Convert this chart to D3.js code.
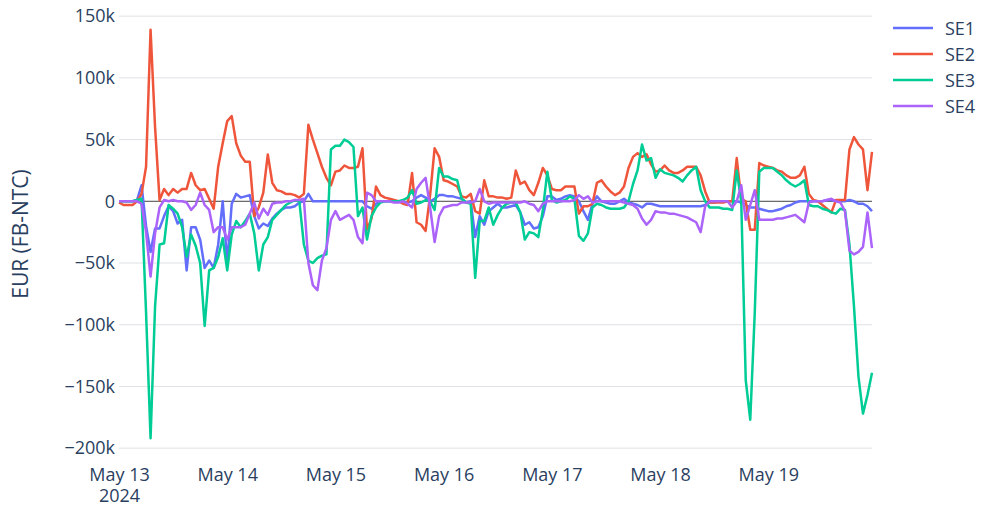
<!DOCTYPE html>
<html>
<head>
<meta charset="utf-8">
<script src="https://cdn.jsdelivr.net/npm/d3@7"></script>
<style>
  html, body { margin: 0; padding: 0; background: #fff; }
  svg { display: block; font-family: "Open Sans", verdana, arial, sans-serif; }
</style>
</head>
<body>
<svg id="chart" width="982" height="506"></svg>
<script>
// hourly values, kEUR, starting 2024-05-13 00:00
var startTime = Date.UTC(2024, 4, 13, 0, 0);
var seriesNames = ["SE1", "SE2", "SE3", "SE4"];
var colors = ["#636efa", "#EF553B", "#00cc96", "#ab63fa"];
var yTicks = [-200, -150, -100, -50, 0, 50, 100, 150];

var se1 = [
  0, 0, 0, 0, 1, 13, -20, -41, -22, -22,
  -12, -4, -8, -18, -15, -56, -21, -21, -31, -54,
  -48, -54, -35, 0, -50, -2, 6, 3, 4, 5,
  -12, -22, -18, -20, -14, -10, -7, -5, -5, -4,
  -1, 0, 6, 0, 0, 0, 0, 0, 0, 0,
  0, 0, 0, 0, 0, -4, -6, -2, 0, 0,
  0, 0, 0, -1, -1, 0, 3, 5, 3, 0,
  2, 5, 5, 4, 4, 3, 2, -1, 0, -29,
  -12, -19, -8, -5, -2, -5, -5, -4, -3, -9,
  -19, -17, -22, -21, -12, 4, 4, 1, 2, 4,
  5, 4, 0, -8, -15, -2, 4, 0, -1, -2,
  -2, 0, 2, -1, -2, -3, -5, -2, -2, -3,
  -4, -4, -4, -4, -4, -4, -4, -4, -4, -4,
  -3, -1, -1, 0, 0, 0, 0, 0, -1, -3,
  -5, -5, -6, -7, -8, -8, -7, -6, -4, -3,
  -1, 0, 0, 0, 0, 0, 0, 1, 1, 0,
  0, 0, 1, 0, -2, -2, -4, -8
];

var se2 = [
  -1, -3, -3, -3, 0, 6, 28, 139, 60, 1,
  10, 5, 10, 7, 10, 10, 23, 13, 9, 10,
  2, -6, 28, 47, 65, 69, 47, 37, 32, 32,
  -12, -5, 7, 38, 15, 9, 8, 6, 6, 5,
  3, 6, 62, 50, 39, 28, 19, 13, 24, 25,
  29, 27, 27, 28, 43, -23, -14, 12, 5, 3,
  2, 1, 0, -2, -3, 23, -17, -19, -24, 5,
  43, 36, 17, 16, 14, 12, 4, 3, 6, -8,
  -10, 17, 4, 4, 3, 3, 2, 3, 25, 14,
  16, 9, 5, 15, 27, 21, 10, 9, 9, 12,
  12, 12, -10, -4, -4, -2, 15, 17, 12, 8,
  5, 7, 12, 27, 36, 39, 36, 38, 30, 24,
  25, 29, 25, 23, 23, 25, 28, 28, 28, 21,
  8, -1, -1, -1, -1, 0, 0, 35, 2, 0,
  -23, -23, 31, 29, 28, 27, 25, 24, 21, 19,
  19, 21, 28, 6, 1, 0, -3, -6, -9, 1,
  1, 1, 42, 52, 46, 42, 9, 40
];

var se3 = [
  0, 0, 0, 0, 1, 2, -90, -192, -85, -35,
  -34, -3, -6, -10, -21, -45, -27, -36, -50, -101,
  -56, -54, -45, -30, -56, -27, -16, -21, -16, -10,
  -26, -56, -35, -29, -15, -11, -7, -3, -1, 1,
  0, -35, -48, -50, -46, -44, -43, 42, 45, 45,
  50, 48, 44, -12, -5, -31, -12, -5, -1, 0,
  0, 0, 0, 1, 3, 9, -2, -1, 1, 0,
  -7, 27, 20, 20, 18, 17, 2, -1, -2, -62,
  -16, -16, -5, -19, -11, -5, -2, -1, -1, -9,
  -31, -25, -26, -29, -7, 24, 1, -1, 0, 1,
  4, 2, -28, -32, -26, -5, -2, -3, -5, -6,
  -6, -6, -5, 0, 14, 25, 46, 33, 35, 19,
  26, 23, 22, 21, 19, 16, 21, 25, 28, 9,
  0, -5, -5, -5, -6, -6, -7, 25, 0, -145,
  -177, -90, 24, 27, 27, 27, 24, 21, 17, 14,
  12, 14, 17, -3, -4, -4, -6, -7, -9, -10,
  -6, -7, -35, -85, -142, -172, -157, -139
];

var se4 = [
  0, 0, 0, 0, 0, -2, -25, -61, -26, -5,
  1, 0, 1, 0, 0, -1, -7, -3, 7, -3,
  -7, -25, -21, -21, -31, -21, -21, -21, -19, -10,
  -1, -14, -6, -11, -2, -1, -1, 0, 0, 1,
  1, 2, -50, -68, -72, -48, -38, -15, -8, -15,
  -13, -11, -15, -29, -34, 7, 5, 0, 0, 0,
  0, -1, -1, 0, -2, -5, 10, 15, 19, -5,
  -33, -12, -5, -4, -3, -3, -1, -1, -1, 0,
  10, 0, -2, -1, -1, -1, -1, -1, -1, -1,
  0, -2, -3, -8, -2, 0, 0, 0, 0, 0,
  0, 1, 5, 2, 4, -1, 0, 0, 0, 0,
  0, 0, -1, -2, -3, -6, -14, -19, -15, -8,
  -9, -9, -10, -10, -11, -12, -13, -15, -17, -25,
  -4, 0, 0, 0, 0, 0, -5, 0, 13, -15,
  -3, 9, -15, -15, -15, -15, -14, -14, -13, -12,
  -11, -14, -17, -1, 0, 0, 0, 1, 2, 0,
  -1, -8, -40, -43, -41, -37, -9, -38
];

var allSeries = [se1, se2, se3, se4];

var width = 982, height = 506;
var margin = {left: 119, right: 110};
var fontFamily = '"Open Sans", verdana, arial, sans-serif';
var textColor = "#2a3f5f";
var svg = d3.select("#chart");

var series = allSeries.map(function(vals, i){
  return {
    name: seriesNames[i],
    color: colors[i],
    values: vals.map(function(v, h){
      return {t: new Date(startTime + h * 3600 * 1000), v: v * 1000};
    })
  };
});

var allPoints = d3.merge(series.map(function(s){ return s.values; }));

var x = d3.scaleUtc()
  .domain(d3.extent(allPoints, function(d){ return d.t; }))
  .range([margin.left, width - margin.right]);

// plotly style autorange: 5% padding on each side
var ext = d3.extent(allPoints, function(d){ return d.v; });
var pad = (ext[1] - ext[0]) * 0.05;
var plotTop = 9.3, plotBottom = 458.7;
var y = d3.scaleLinear()
  .domain([ext[0] - pad, ext[1] + pad])
  .range([plotBottom, plotTop]);

svg.append("rect").attr("width", width).attr("height", height).attr("fill", "#fff");

// grid
svg.append("g").selectAll("line")
  .data(yTicks.filter(function(d){ return d !== 0; }))
  .enter().append("line")
  .attr("x1", x.range()[0]).attr("x2", x.range()[1])
  .attr("y1", function(d){ return y(d * 1000); })
  .attr("y2", function(d){ return y(d * 1000); })
  .attr("stroke", "#dfe1e5").attr("stroke-width", 1);

var fmt = d3.format("~s");
var yAxis = svg.append("g")
  .attr("transform", "translate(" + (x.range()[0] - 4) + ",0)")
  .call(d3.axisLeft(y)
    .tickValues(yTicks.map(function(d){ return d * 1000; }))
    .tickSize(0)
    .tickFormat(function(d){ return d === 0 ? "0" : fmt(d); }));
yAxis.select(".domain").remove();
yAxis.selectAll("text")
  .attr("x", 0)
  .attr("fill", textColor)
  .style("font-size", "18px")
  .style("font-family", fontFamily);

var days = d3.utcDay.range(x.domain()[0], x.domain()[1]);
var xAxis = svg.append("g")
  .attr("transform", "translate(0," + plotBottom + ")")
  .call(d3.axisBottom(x).tickValues(days).tickSize(0).tickFormat(d3.utcFormat("%b %-d")));
xAxis.select(".domain").remove();
xAxis.selectAll("text")
  .attr("y", 22.5)
  .attr("dy", "0")
  .attr("fill", textColor)
  .style("font-size", "18px")
  .style("font-family", fontFamily)
  .each(function(d, i){
    if (i !== 0) return;
    var t = d3.select(this);
    t.text(null);
    t.append("tspan").attr("x", 0).attr("dy", 0).text(d3.utcFormat("%b %-d")(d));
    t.append("tspan").attr("x", 0).attr("dy", 21).text(d3.utcFormat("%Y")(d));
  });

// zero line
svg.append("line")
  .attr("x1", x.range()[0]).attr("x2", x.range()[1])
  .attr("y1", y(0)).attr("y2", y(0))
  .attr("stroke", "#444").attr("stroke-width", 1);

// y title
svg.append("text")
  .attr("transform", "translate(28," + ((plotTop + plotBottom) / 2) + ") rotate(-90)")
  .attr("text-anchor", "middle")
  .attr("fill", textColor)
  .style("font-size", "21px")
  .text("EUR (FB-NTC)");

var line = d3.line()
  .x(function(d){ return x(d.t); })
  .y(function(d){ return y(d.v); });

svg.append("g").selectAll("path")
  .data(series)
  .enter().append("path")
  .attr("d", function(d){ return line(d.values); })
  .attr("fill", "none")
  .attr("stroke", function(d){ return d.color; })
  .attr("stroke-width", 2.5)
  .attr("stroke-linejoin", "round");

// legend
var legend = svg.append("g").attr("transform", "translate(893,28)");
var items = legend.selectAll("g").data(series).enter().append("g")
  .attr("transform", function(d, i){ return "translate(0," + i * 26 + ")"; });
items.append("line")
  .attr("x1", 0).attr("x2", 40)
  .attr("stroke", function(d){ return d.color; })
  .attr("stroke-width", 2.5);
items.append("text")
  .attr("x", 52).attr("y", 6.5)
  .attr("fill", textColor)
  .style("font-size", "18px")
  .text(function(d){ return d.name; });
</script>
</body>
</html>
